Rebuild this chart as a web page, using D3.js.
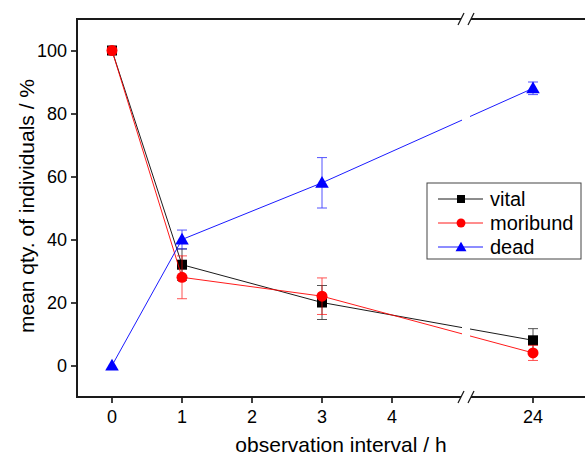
<!DOCTYPE html>
<html>
<head>
<meta charset="utf-8">
<script src="https://cdn.jsdelivr.net/npm/d3@7"></script>
<style>
  body { margin: 0; background: #fff; }
  text { font-family: "Liberation Sans", Arial, sans-serif; }
</style>
</head>
<body>
<div id="chart"></div>
<script>
// data
const hours = [0, 1, 3, 24];
const vital = [100, 32, 20, 8];
const vitalErr = [0, 5, 5.4, 3.7];
const moribund = [100, 28, 22, 4];
const moribundErr = [0, 6.8, 5.8, 2.4];
const dead = [0, 40, 58, 88];
const deadErr = [0, 3, 8, 2];
const xTicks = [0, 1, 2, 3, 4, 24];
const yTicks = [0, 20, 40, 60, 80, 100];

const width = 585,
  height = 460,
  marginLeft = 77,
  marginTop = 19,
  plotBottom = 397,
  breakLeft = 462,
  breakRight = 470;

const symbolTypes = {
  square: d3.symbolSquare,
  circle: d3.symbolCircle,
  triangle: d3.symbolTriangle,
};

const series = [
  { name: "vital", y: vital, err: vitalErr, color: "#000000", shape: "square", size: 100 },
  { name: "moribund", y: moribund, err: moribundErr, color: "#ff0000", shape: "circle", size: 95 },
  { name: "dead", y: dead, err: deadErr, color: "#0000ff", shape: "triangle", size: 80 },
];

// broken x axis: two linear pieces
const x1 = d3.scaleLinear([-0.5, 5], [marginLeft, breakLeft]);
const x2 = d3.scaleLinear([23.1, 25], [breakRight, 603]);
const xScale = (v) => (v <= 5 ? x1(v) : x2(v));
const yScale = d3.scaleLinear([-10, 110], [plotBottom, marginTop]);

const svg = d3
  .select("#chart")
  .append("svg")
  .attr("width", width)
  .attr("height", height)
  .attr("viewBox", [0, 0, width, height]);

// clip so that lines show a gap at the break
const clip = svg.append("defs").append("clipPath").attr("id", "plotclip");
clip.append("rect").attr("x", marginLeft).attr("y", 0).attr("width", breakLeft - marginLeft).attr("height", height);
clip.append("rect").attr("x", breakRight).attr("y", 0).attr("width", width - breakRight).attr("height", height);

const plot = svg.append("g").attr("clip-path", "url(#plotclip)");

const line = d3
  .line()
  .x((d) => xScale(d[0]))
  .y((d) => yScale(d[1]));

series.forEach((s) => {
  const g = plot.append("g");
  const pts = hours.map((h, i) => [h, s.y[i], s.err[i]]);

  g.append("path")
    .datum(pts)
    .attr("fill", "none")
    .attr("stroke", s.color)
    .attr("stroke-width", 0.9)
    .attr("d", line);

  // error bars
  const eb = g
    .selectAll("g.err")
    .data(pts.filter((d) => d[2] > 0))
    .join("g")
    .attr("stroke", s.color)
    .attr("stroke-width", 0.9)
    .attr("opacity", 0.75);
  eb.append("line")
    .attr("x1", (d) => xScale(d[0]))
    .attr("x2", (d) => xScale(d[0]))
    .attr("y1", (d) => yScale(d[1] + d[2]))
    .attr("y2", (d) => yScale(d[1] - d[2]));
  [1, -1].forEach((sign) => {
    eb.append("line")
      .attr("x1", (d) => xScale(d[0]) - 5)
      .attr("x2", (d) => xScale(d[0]) + 5)
      .attr("y1", (d) => yScale(d[1] + sign * d[2]))
      .attr("y2", (d) => yScale(d[1] + sign * d[2]));
  });

  g.selectAll("path.mark")
    .data(pts)
    .join("path")
    .attr("class", "mark")
    .attr("transform", (d) => `translate(${xScale(d[0])},${yScale(d[1]) + (s.shape === "triangle" ? 1 : 0)})`)
    .attr("fill", s.color)
    .attr("d", d3.symbol(symbolTypes[s.shape], s.size));
});

// y axis
svg
  .append("g")
  .attr("transform", `translate(${marginLeft},0)`)
  .call(d3.axisLeft(yScale).tickValues(yTicks).tickSize(6).tickPadding(4))
  .call((g) => g.select(".domain").remove())
  .call((g) => g.selectAll(".tick line").attr("stroke-width", 1.5))
  .call((g) => g.selectAll(".tick text").attr("font-size", 18).attr("fill", "#000"));

// x axis (piecewise, so ticks are placed by hand through xScale)
svg
  .append("g")
  .attr("transform", `translate(0,${plotBottom})`)
  .selectAll("g.tick")
  .data(xTicks)
  .join("g")
  .attr("class", "tick")
  .attr("transform", (d) => `translate(${xScale(d)},0)`)
  .call((g) => g.append("line").attr("y2", 6).attr("stroke", "#000").attr("stroke-width", 1.5))
  .call((g) =>
    g
      .append("text")
      .attr("y", 26)
      .attr("text-anchor", "middle")
      .attr("font-size", 18)
      .text((d) => d)
  );

// frame: left, top, bottom (with break marks)
const frame = svg.append("g").attr("stroke", "#1a1a1a").attr("stroke-width", 2).attr("fill", "none");
frame.append("line").attr("x1", marginLeft).attr("x2", marginLeft).attr("y1", marginTop - 1).attr("y2", plotBottom + 1);
[marginTop, plotBottom].forEach((yy) => {
  frame.append("line").attr("x1", marginLeft).attr("x2", breakLeft - 1).attr("y1", yy).attr("y2", yy);
  frame.append("line").attr("x1", breakRight + 1).attr("x2", width).attr("y1", yy).attr("y2", yy);
  [breakLeft - 1, breakRight + 1].forEach((bx) => {
    frame
      .append("line")
      .attr("stroke-width", 1.3)
      .attr("x1", bx - 3)
      .attr("y1", yy + 6)
      .attr("x2", bx + 3)
      .attr("y2", yy - 6);
  });
});

// axis titles
svg
  .append("text")
  .attr("x", 341)
  .attr("y", 452)
  .attr("text-anchor", "middle")
  .attr("font-size", 21)
  .text("observation interval / h");

svg
  .append("text")
  .attr("transform", "translate(34,206) rotate(-90)")
  .attr("text-anchor", "middle")
  .attr("font-size", 21)
  .text("mean qty. of individuals / %");

// legend
const legend = svg.append("g").attr("transform", "translate(427,183)");
legend
  .append("rect")
  .attr("width", 154)
  .attr("height", 76)
  .attr("fill", "#fff")
  .attr("stroke", "#444")
  .attr("stroke-width", 1);
series.forEach((s, i) => {
  const ly = 16 + i * 24;
  legend
    .append("line")
    .attr("x1", 11)
    .attr("x2", 56)
    .attr("y1", ly)
    .attr("y2", ly)
    .attr("stroke", s.color)
    .attr("stroke-width", 0.9);
  legend
    .append("path")
    .attr("transform", `translate(34,${ly + (s.shape === "triangle" ? 1 : 0)})`)
    .attr("fill", s.color)
    .attr("d", d3.symbol(symbolTypes[s.shape], s.size * 0.65));
  legend
    .append("text")
    .attr("x", 63)
    .attr("y", ly + 7)
    .attr("font-size", 20)
    .text(s.name);
});
</script>
</body>
</html>
